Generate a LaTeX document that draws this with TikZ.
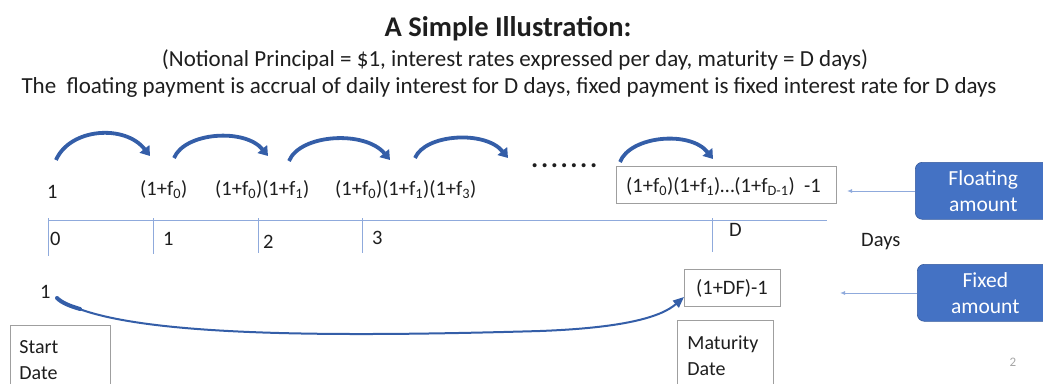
\documentclass[tikz,border=0pt]{standalone}
\usepackage{fontspec}
\setmainfont{Carlito}
\usetikzlibrary{arrows.meta}
\definecolor{arcblue}{RGB}{52,94,168}
\definecolor{boxblue}{RGB}{68,114,196}
\definecolor{linblue}{RGB}{143,170,220}
\definecolor{txt}{RGB}{30,30,30}
\tikzset{
  lbl/.style={font=\fontsize{20.5}{24}\selectfont, inner sep=0pt, text=txt},
  valbox/.style={draw=gray!75, line width=0.8pt, inner xsep=6pt, inner ysep=5pt},
  datebox/.style={draw=gray!75, line width=0.8pt, align=left, anchor=north west, inner xsep=9pt, inner ysep=6pt, font=\fontsize{20}{26}\selectfont, text=txt},
  bluebox/.style={fill=boxblue, draw=boxblue!80!black, line width=0.6pt, rounded corners=7pt, text=white, align=center, font=\fontsize{21.5}{26}\selectfont, minimum width=136pt, minimum height=57pt, anchor=north west},
  arcarrow/.style={draw=arcblue, line width=3.8pt, -{Triangle[length=9pt,width=12pt]}},
  feed/.style={draw=linblue, line width=1pt, -{Latex[length=5pt,width=4pt]}},
  tl/.style={draw=linblue, line width=0.9pt},
}
\begin{document}
\begin{tikzpicture}[x=1pt,y=-1pt]
\useasboundingbox (0,0) rectangle (1043,383);
\clip (0,0) rectangle (1043,383);
% titles
\node[font=\bfseries\fontsize{28.5}{30}\selectfont, text=txt, inner sep=0pt, anchor=base] (title) at (508,36) {A Simple Illustration:};
\node[font=\fontsize{23}{26}\selectfont, text=txt, inner sep=0pt, anchor=base] (sub1) at (515,66) {(Notional Principal = \$1, interest rates expressed per day, maturity = D days)};
\node[font=\fontsize{23}{26}\selectfont, text=txt, inner sep=0pt, anchor=base] (sub2) at (509,93) {The\ \ floating payment is accrual of daily interest for D days, fixed payment is fixed interest rate for D days};

% timeline
\coordinate (tlL) at (48,220);
\coordinate (tlR) at (827,220);
\draw[tl] (tlL) -- (tlR);
\foreach \x/\b in {48/256,153/254,258/253,362/253,712/252}{
  \draw[tl] (\x,218) -- (\x,\b);
}
\node[lbl, anchor=base west] (d0) at (50,245) {0};
\node[lbl, anchor=base west] (d1) at (163,245) {1};
\node[lbl, anchor=base west] (d2) at (263,248) {2};
\node[lbl, anchor=base west] (d3) at (372,244) {3};
\node[lbl, anchor=base west] (dD) at (729,236) {D};
\node[lbl, anchor=base west] (days) at (861,246) {Days};

% floating values
\node[lbl, anchor=base west] (v0) at (47,198) {1};
\node[lbl, anchor=base west] (v1) at (140,195) {(1+f\textsubscript{0})};
\node[lbl, anchor=base west] (v2) at (215,195) {(1+f\textsubscript{0})(1+f\textsubscript{1})};
\node[lbl, anchor=base west] (v3) at (335,195) {(1+f\textsubscript{0})(1+f\textsubscript{1})(1+f\textsubscript{3})};
\node[valbox, minimum width=220pt, minimum height=37pt, anchor=north west] (vD) at (616,166) {};
\node[lbl, anchor=base west] (vDt) at (626,192) {(1+f\textsubscript{0})(1+f\textsubscript{1})\ldots(1+f\textsubscript{D-1})\ \ -1};
\node[font=\bfseries\fontsize{27}{27}\selectfont, text=txt, inner sep=0pt, anchor=base west] (dots) at (531,167) {.\kern2.6pt.\kern2.6pt.\kern2.6pt.\kern2.6pt.\kern2.6pt.\kern2.6pt.};

% arcs
\coordinate (a1s) at (56,160); \coordinate (a1e) at (150,156);
\coordinate (a2s) at (174,158); \coordinate (a2e) at (268,156);
\coordinate (a3s) at (289,161); \coordinate (a3e) at (390,160);
\coordinate (a4s) at (415,158); \coordinate (a4e) at (508,158);
\coordinate (a5s) at (620,162); \coordinate (a5e) at (713,159);
\draw[arcarrow] (a1s) .. controls (70,128) and (125,124) .. (a1e);
\draw[arcarrow] (a2s) .. controls (185,132) and (245,128) .. (a2e);
\draw[arcarrow] (a3s) .. controls (300,134) and (365,130) .. (a3e);
\draw[arcarrow] (a4s) .. controls (425,134) and (485,130) .. (a4e);
\draw[arcarrow] (a5s) .. controls (630,136) and (690,130) .. (a5e);

% blue boxes and feeder arrows
\node[bluebox] (float) at (915,162) {Floating\\amount};
\node[bluebox] (fixed) at (917,264) {Fixed\\amount};
\draw[feed] (float.west |- 0,191) -- (847,191);
\draw[feed] (fixed.west |- 0,293) -- (840,293);

% fixed leg
\node[lbl, anchor=base west] (one) at (40,298) {1};
\node[valbox, minimum width=96pt, minimum height=37pt, anchor=north west] (dfbox) at (684,269) {};
\node[lbl, anchor=base] (dft) at (732,294) {(1+DF)-1};
\coordinate (fs) at (57,298);
\draw[draw=arcblue, line width=4pt, line cap=round] (fs) .. controls (62,303) and (70,306) .. (80,309);
\draw[draw=arcblue, line width=2pt, -{Triangle[length=11pt,width=9pt]}] (fs) .. controls (110,335) and (300,338) .. (540,331) .. controls (620,328) and (660,318) .. (dfbox.west |- 0,297);

% date boxes
\node[datebox, text width=82pt, minimum height=70pt] (start) at (10,325) {Start\\Date};
\node[datebox, text width=76pt, inner xsep=10pt, minimum height=70pt] (mat) at (677,320) {Maturity\\Date};

% page number
\node[font=\fontsize{13}{14}\selectfont, text=gray!70, inner sep=0pt] (pg) at (1013,362) {2};
\end{tikzpicture}
\end{document}
